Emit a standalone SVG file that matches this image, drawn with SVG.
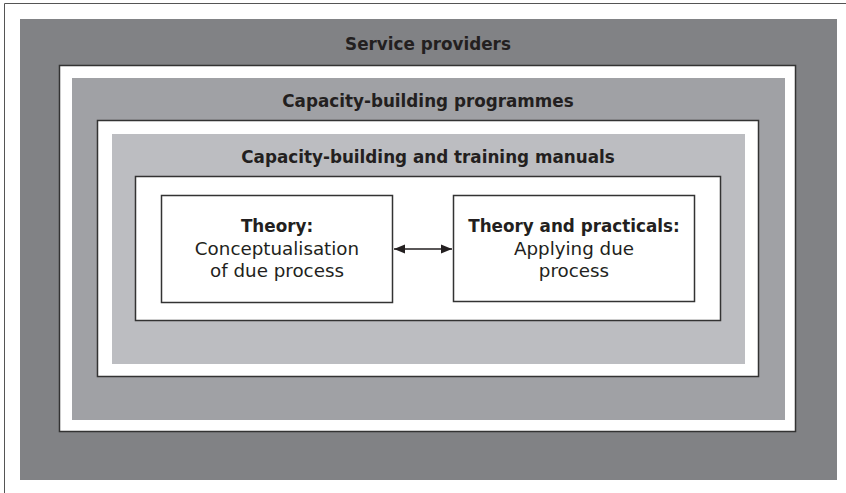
<svg xmlns="http://www.w3.org/2000/svg" width="846" height="493" viewBox="0 0 846 493">
<defs>
<style>
.title{font-family:"DejaVu Sans","Liberation Sans",sans-serif;font-weight:bold;font-size:16.8px;fill:#231f20;text-anchor:middle}
.bold{font-family:"DejaVu Sans","Liberation Sans",sans-serif;font-weight:bold;font-size:16.8px;fill:#231f20;text-anchor:middle}
.body{font-family:"DejaVu Sans","Liberation Sans",sans-serif;font-size:18.3px;fill:#231f20;text-anchor:middle}
.frame{fill:#ffffff;stroke:#333333;stroke-width:1.5}
.conn{stroke:#231f20;stroke-width:1.3;fill:none}
</style>
<marker id="ah" viewBox="0 0 10 10" refX="10" refY="5" markerWidth="11" markerHeight="11" markerUnits="userSpaceOnUse" orient="auto-start-reverse">
<path d="M0,1 L10,5 L0,9 Z" fill="#231f20"/>
</marker>
</defs>
<rect width="846" height="493" fill="#ffffff"/>
<path d="M4.5,493 V3.5 H846" fill="none" stroke="#555555" stroke-width="1"/>
<g id="service-providers">
<rect x="20" y="19" width="817" height="461" fill="#818285"/>
<text class="title" x="428" y="50">Service providers</text>
</g>
<g id="capacity-building-programmes">
<rect class="frame" x="59.5" y="65.5" width="736" height="366"/>
<rect x="72" y="78" width="713" height="342" fill="#a0a1a5"/>
<text class="title" x="428" y="107">Capacity-building programmes</text>
</g>
<g id="training-manuals">
<rect class="frame" x="97.5" y="120.5" width="661" height="256"/>
<rect x="112" y="134" width="633" height="230" fill="#bcbdc1"/>
<text class="title" x="428" y="163">Capacity-building and training manuals</text>
<rect class="frame" x="135.5" y="176.5" width="585" height="144"/>
</g>
<g id="theory">
<rect class="frame" x="161.5" y="195.5" width="231" height="107"/>
<text class="bold" x="277" y="232">Theory:</text>
<text class="body" x="277" y="255">Conceptualisation</text>
<text class="body" x="277" y="277">of due process</text>
</g>
<g id="theory-practicals">
<rect class="frame" x="453.5" y="195.5" width="241" height="106"/>
<text class="bold" x="574" y="232">Theory and practicals:</text>
<text class="body" x="574" y="255">Applying due</text>
<text class="body" x="574" y="277">process</text>
</g>
<g id="connectors">
<line class="conn" x1="394" y1="249" x2="452" y2="249" marker-start="url(#ah)" marker-end="url(#ah)"/>
</g>
</svg>
